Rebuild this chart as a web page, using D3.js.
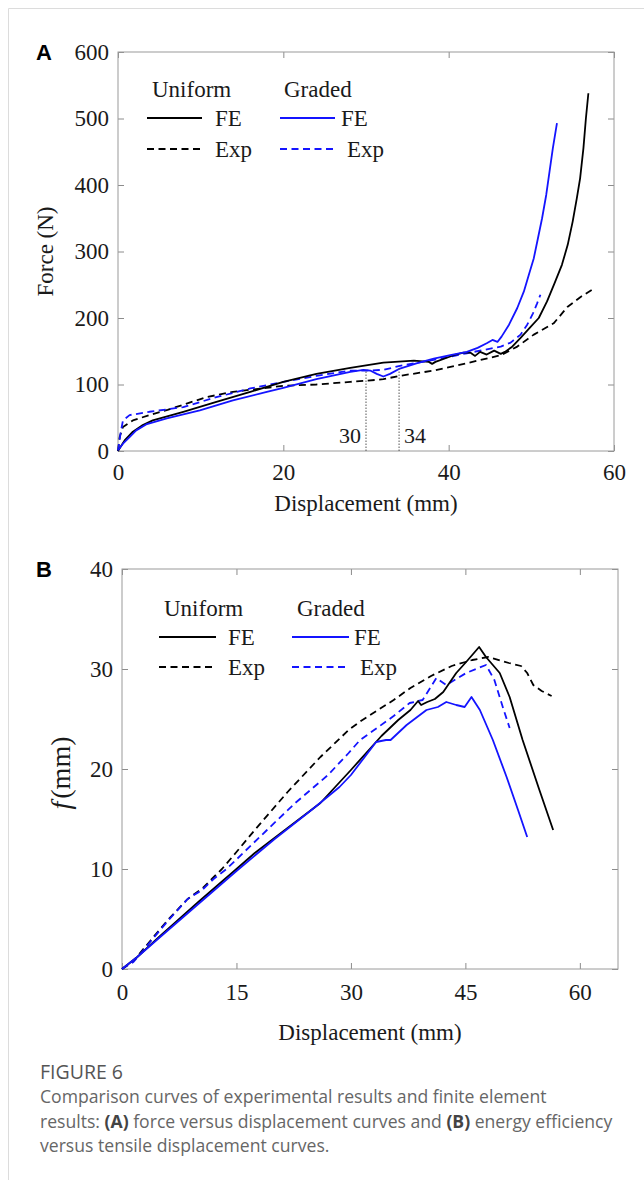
<!DOCTYPE html>
<html>
<head>
<meta charset="utf-8">
<script src="https://cdn.jsdelivr.net/npm/d3@7/dist/d3.min.js"></script>
<style>
  body { margin: 0; background: #fff; }
  .tick text { font-family: "Liberation Serif", "Times New Roman", serif; font-size: 23px; fill: #1a1a1a; }
  .tick line { stroke: #8c8c8c; }
  .serif { font-family: "Liberation Serif", "Times New Roman", serif; fill: #1a1a1a; }
</style>
</head>
<body>
<div id="figure"></div>
<script>
// ---- Panel A: force vs displacement ----
const xTicksA = [0, 20, 40, 60];
const yTicksA = [0, 100, 200, 300, 400, 500, 600];

const uniformFE_A = [[0,0],[0.8,16],[1.8,29],[3.0,39],[4.2,46],[7.9,59],[11.9,74],[16,89],[20,104],[24,116],
  [28.1,125],[32.1,133],[35.8,136],[37.6,134],[38,131],[38.4,134],[40.6,144],[41.8,148],[42.6,148],[43.2,143],
  [43.8,149],[44.6,145],[45.5,151],[46.3,146],[46.8,149],[47.6,156],[48.7,170],[49.8,185],[50.9,200],[51.9,225],
  [52.8,252],[53.7,280],[54.4,310],[55.0,345],[55.5,380],[55.9,410],[56.3,455],[56.6,500],[56.9,538]];
const uniformExp_A = [[0,0],[0.2,21],[0.6,36],[1.8,46],[3.8,54],[6,62],[8,70],[10.7,81],[13.9,89],[18,95],[20,98],
  [24,100],[28.1,104],[31.3,107],[32.1,108],[34.1,113],[38.2,121],[42.2,132],[46.3,144],[48.3,157],[50.3,175],
  [52.7,192],[54.4,217],[56.0,232],[57.3,242]];
const gradedFE_A = [[0,1],[0.6,11],[1.4,21],[2.2,31],[3.4,40],[5.9,49],[9.9,61],[13.9,76],[18,89],[20,95],[24,108],
  [28.1,119],[29.7,122],[30.5,121],[31.3,116],[32.1,112],[32.9,116],[34.1,124],[36.2,132],[38.2,139],[40.2,144],
  [42.2,149],[43.5,155],[44.6,162],[45.3,167],[45.9,164],[46.4,172],[47.3,190],[48.3,215],[49.1,240],[49.7,265],
  [50.3,290],[50.8,320],[51.3,350],[51.8,385],[52.2,420],[52.6,455],[53.1,493]];
const gradedExp_A = [[0,0],[0.3,26],[0.6,46],[1.4,54],[3.8,59],[7.9,66],[11.9,81],[16,94],[20,104],[24,113],
  [28.1,121],[30.1,121],[32.1,122],[34.1,128],[38.2,137],[42.2,147],[46.3,157],[47.5,163],[48.7,175],[49.5,190],
  [50.2,207],[50.7,222],[51.1,235]];
// dotted guides (displacement, force at top of guide)
const guidesA = [[30, 122], [34, 125]];

// ---- Panel B: f vs displacement ----
const xTicksB = [0, 15, 30, 45, 60];
const yTicksB = [0, 10, 20, 30, 40];

const uniformFE_B = [[0,0],[2,1.2],[5,3.3],[10,6.7],[15,10.0],[17.4,11.6],[21.7,14.1],[26,16.6],[30,19.9],[34,23.3],
  [36.2,24.9],[37.8,25.9],[38.8,26.8],[39.2,26.4],[40,26.7],[41,27.0],[42.1,27.7],[43.8,29.6],[45.1,30.7],
  [46.8,32.2],[47.7,31.2],[49.5,29.6],[50.8,27.2],[52.5,22.9],[54.7,17.9],[56.5,13.9]];
const uniformExp_B = [[0,0],[1.5,0.8],[3.8,2.9],[6,4.9],[8.6,7.0],[10.6,8.1],[11.9,9.1],[13.1,10.0],[15,11.7],
  [17.4,13.9],[21.7,17.7],[26,21.2],[29.7,23.9],[31.3,24.8],[35.6,26.9],[37.8,28.1],[40.5,29.3],[43.2,30.3],
  [45.9,30.9],[48.0,31.2],[50.7,30.6],[52.3,30.3],[53.1,29.6],[53.9,28.4],[55.0,27.8],[56.3,27.3]];
const gradedFE_B = [[0,0],[2,1.2],[5,3.2],[10,6.5],[15,9.8],[20,13.0],[25,16.0],[28.5,18.2],[30,19.4],[33.3,22.7],
  [34.6,22.9],[35.2,22.9],[37.3,24.4],[39.9,25.9],[41.4,26.2],[42.5,26.7],[43.8,26.4],[44.9,26.2],[45.8,27.2],
  [46.9,25.9],[48.6,22.9],[50.4,19.2],[51.9,15.9],[53.1,13.2]];
const gradedExp_B = [[0,0],[1.5,0.7],[3.8,2.8],[6,4.8],[8.6,7.0],[10.5,7.9],[12,9.0],[13.7,10.0],[15.2,11.1],
  [19,13.9],[22.7,16.6],[27,19.4],[29.7,21.6],[31.2,22.9],[33.6,24.2],[35.6,25.3],[37.7,26.6],[39.4,26.9],
  [41.2,29.1],[42.5,28.4],[45.1,29.6],[47.7,30.4],[48.8,28.9],[49.9,26.2],[50.8,24.1]];

const seriesNames = ["FE", "Exp"];
const groupNames = ["Uniform", "Graded"];

const BLUE = "#1414ff";
const BLACK = "#000";

const svg = d3.select("#figure").append("svg")
    .attr("width", 644)
    .attr("height", 1180);

// light frame of the figure card
svg.append("path")
    .attr("d", "M8.5,1180V8.5H644")
    .attr("fill", "none")
    .attr("stroke", "#dcdcdc");

function drawPanel(opt) {
    const g = svg.append("g");
    const x = d3.scaleLinear().domain(opt.xDomain).range(opt.xRange);
    const y = d3.scaleLinear().domain(opt.yDomain).range(opt.yRange);
    const [x0, x1] = opt.xRange;
    const [yb, yt] = opt.yRange;

    // axes with inward ticks
    g.append("g").attr("transform", `translate(0,${yb})`)
        .call(d3.axisBottom(x).tickValues(opt.xTicks).tickSize(-6).tickPadding(opt.xPad));
    g.append("g").attr("transform", `translate(0,${yt})`)
        .call(d3.axisTop(x).tickValues(opt.xTicks).tickSize(-6).tickFormat(""));
    g.append("g").attr("transform", `translate(${x0},0)`)
        .call(d3.axisLeft(y).tickValues(opt.yTicks).tickSize(-6).tickPadding(9));
    g.append("g").attr("transform", `translate(${x1},0)`)
        .call(d3.axisRight(y).tickValues(opt.yTicks).tickSize(-6).tickFormat(""));
    g.selectAll(".domain").remove();

    g.append("rect")
        .attr("x", x0).attr("y", yt)
        .attr("width", x1 - x0).attr("height", yb - yt)
        .attr("fill", "none")
        .attr("stroke", "#9a9a9a");

    const line = d3.line().x(d => x(d[0])).y(d => y(d[1]));

    opt.series.forEach(s => {
        g.append("path")
            .datum(s.data)
            .attr("d", line)
            .attr("fill", "none")
            .attr("stroke", s.color)
            .attr("stroke-width", 1.8)
            .attr("stroke-linejoin", "round")
            .attr("stroke-dasharray", s.dashed ? "7,4.5" : null);
    });

    // axis titles
    g.append("text").attr("class", "serif")
        .attr("x", (x0 + x1) / 2).attr("y", opt.xTitleY)
        .attr("text-anchor", "middle")
        .style("font-size", "23px")
        .text("Displacement (mm)");

    const yLab = g.append("text").attr("class", "serif")
        .attr("transform", `translate(${opt.yTitleX},${(yb + yt) / 2 + opt.yTitleShift}) rotate(-90)`)
        .attr("text-anchor", "middle")
        .style("font-size", opt.yTitleSize);
    opt.yTitle(yLab);

    // panel letter
    g.append("text")
        .attr("x", 36).attr("y", yt + 8)
        .style("font-family", "'Liberation Sans', Arial, sans-serif")
        .style("font-weight", "bold")
        .style("font-size", "22px")
        .text(opt.letter);

    // legend
    const L = opt.legend;
    groupNames.forEach((name, i) => {
        g.append("text").attr("class", "serif")
            .attr("x", L.headX[i]).attr("y", L.headY)
            .style("font-size", "23px")
            .text(name);
    });
    seriesNames.forEach((name, r) => {
        [BLACK, BLUE].forEach((c, i) => {
            g.append("line")
                .attr("x1", L.lineX[i]).attr("x2", L.lineX[i] + L.lineW)
                .attr("y1", L.rowY[r]).attr("y2", L.rowY[r])
                .attr("stroke", c)
                .attr("stroke-width", 1.8)
                .attr("stroke-dasharray", r === 1 ? "7,4.5" : null);
            g.append("text").attr("class", "serif")
                .attr("x", L.textX[i] + (r === 1 && i === 1 ? 6 : 0)).attr("y", L.rowY[r] + 8)
                .style("font-size", "23px")
                .text(name);
        });
    });

    return { g, x, y };
}

// Panel A
const pA = drawPanel({
    letter: "A",
    xDomain: [0, 60], xRange: [118, 614],
    yDomain: [0, 600], yRange: [451, 52],
    xTicks: xTicksA, yTicks: yTicksA, xPad: 13,
    xTitleY: 511, yTitleX: 53, yTitleShift: 0, yTitleSize: "23px",
    yTitle: t => t.text("Force (N)"),
    series: [
        { data: uniformExp_A, color: BLACK, dashed: true },
        { data: gradedExp_A, color: BLUE, dashed: true },
        { data: uniformFE_A, color: BLACK, dashed: false },
        { data: gradedFE_A, color: BLUE, dashed: false }
    ],
    legend: { headX: [152, 284], headY: 97, lineX: [147, 280], lineW: 55, textX: [215, 341], rowY: [118, 149] }
});

// dotted guides at 30 and 34 mm
pA.g.selectAll(".guide")
    .data(guidesA)
    .enter()
    .append("line")
    .attr("class", "guide")
    .attr("x1", d => pA.x(d[0])).attr("x2", d => pA.x(d[0]))
    .attr("y1", pA.y(0)).attr("y2", d => pA.y(d[1]))
    .attr("stroke", "#555")
    .attr("stroke-width", 1)
    .attr("stroke-dasharray", "1.5,1.5");

pA.g.selectAll(".guide-label")
    .data(guidesA)
    .enter()
    .append("text")
    .attr("class", "serif guide-label")
    .attr("x", (d, i) => pA.x(d[0]) + (i === 0 ? -5 : 5))
    .attr("y", pA.y(0) - 8)
    .attr("text-anchor", (d, i) => i === 0 ? "end" : "start")
    .style("font-size", "22px")
    .text(d => d[0]);

// Panel B
drawPanel({
    letter: "B",
    xDomain: [0, 65], xRange: [122, 618],
    yDomain: [0, 40], yRange: [969, 569],
    xTicks: xTicksB, yTicks: yTicksB, xPad: 15,
    xTitleY: 1040, yTitleX: 70, yTitleShift: 4, yTitleSize: "28px",
    yTitle: t => {
        t.append("tspan").style("font-style", "italic").text("f");
        t.append("tspan").attr("dx", 3).text("(mm)");
    },
    series: [
        { data: uniformExp_B, color: BLACK, dashed: true },
        { data: gradedExp_B, color: BLUE, dashed: true },
        { data: uniformFE_B, color: BLACK, dashed: false },
        { data: gradedFE_B, color: BLUE, dashed: false }
    ],
    legend: { headX: [164, 297], headY: 616, lineX: [159, 292], lineW: 57, textX: [228, 354], rowY: [637, 667] }
});

// caption
const cap = svg.append("g")
    .style("font-family", "'Open Sans', 'Noto Sans', sans-serif");

cap.append("text")
    .attr("x", 40).attr("y", 1079)
    .style("font-size", "19.5px")
    .style("fill", "#555")
    .text("FIGURE 6");

const capLines = [
    [["Comparison curves of experimental results and finite element", false]],
    [["results: ", false], ["(A)", true], [" force versus displacement curves and ", false], ["(B)", true], [" energy efficiency", false]],
    [["versus tensile displacement curves.", false]]
];

capLines.forEach((parts, i) => {
    const t = cap.append("text")
        .attr("x", 40).attr("y", 1103 + i * 24.5)
        .style("font-size", "17.6px")
        .style("fill", "#666");
    parts.forEach(p => {
        t.append("tspan")
            .style("font-weight", p[1] ? "bold" : "normal")
            .style("fill", p[1] ? "#444" : null)
            .text(p[0]);
    });
});
</script>
</body>
</html>
